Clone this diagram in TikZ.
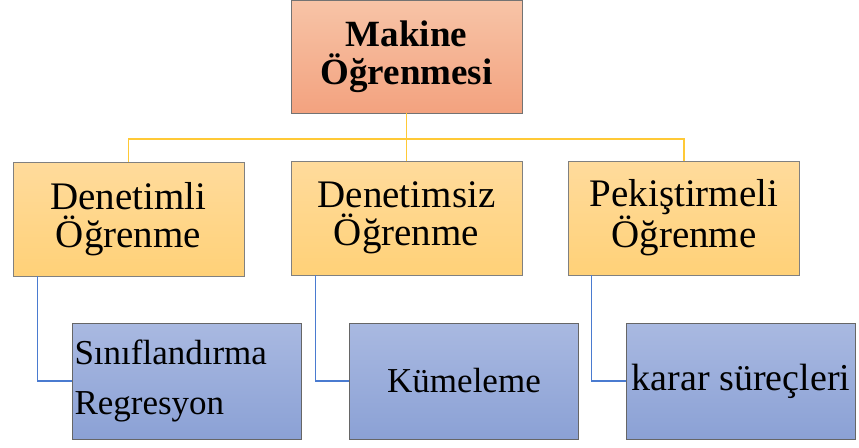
\documentclass[tikz,border=0pt]{standalone}
\usepackage{fontspec}
\setmainfont{Liberation Serif}
\newfontfamily\tnr{Liberation Serif}
\begin{document}
\begin{tikzpicture}[x=1pt,y=-1pt,
  rootbox/.style={draw=black!55, line width=0.8pt, top color=salmontop, bottom color=salmonbot,
    minimum width=231pt, minimum height=113pt, inner sep=0pt, align=center,
    font=\tnr\fontsize{37}{38}\selectfont\bfseries},
  kindbox/.style={draw=black!50, line width=0.8pt, top color=goldtop, bottom color=goldbot,
    minimum width=231pt, minimum height=114pt, inner sep=0pt, align=center,
    font=\tnr\fontsize{39}{38}\selectfont},
  taskbox/.style={draw=black!60, line width=0.8pt, top color=bluetop, bottom color=bluebot,
    minimum width=229pt, minimum height=116pt, inner sep=0pt},
  trunk/.style={draw=linkgold, line width=1.4pt},
  branch/.style={draw=linkblue, line width=1.2pt}]
\definecolor{salmontop}{HTML}{F7C4A7}
\definecolor{salmonbot}{HTML}{F3A27F}
\definecolor{goldtop}{HTML}{FFDB9C}
\definecolor{goldbot}{HTML}{FFD178}
\definecolor{bluetop}{HTML}{A9B9E1}
\definecolor{bluebot}{HTML}{8BA1D5}
\definecolor{linkgold}{HTML}{FFC936}
\definecolor{linkblue}{HTML}{4A7BD0}

\useasboundingbox (0,0) rectangle (859,447);

% root
\node[rootbox] (root) at (406.5,56.5) {Makine\\Öğrenmesi};

% learning kinds
\node[kindbox] (sup)   at (128.5,219) {Denetimli\\Öğrenme};
\node[kindbox] (unsup) at (406.5,218) {Denetimsiz\\Öğrenme};
\node[kindbox] (rein)  at (684,218)   {Pekiştirmeli\\Öğrenme};

% tasks
\node[taskbox, text width=225pt, inner xsep=2pt, align=left,
      font=\tnr\fontsize{35}{50}\selectfont] (tsup) at (187,381) {Sınıflandırma\\Regresyon};
\node[taskbox, font=\tnr\fontsize{35}{40}\selectfont] (tunsup) at (464,381) {Kümeleme};
\node[taskbox, font=\tnr\fontsize{38}{40}\selectfont] (trein)  at (741,381) {karar süreçleri};

% root to kinds
\draw[trunk] (root.south) -- ++(0,25.5) coordinate (hub);
\draw[trunk] (sup.north) |- (hub) -| (rein.north);
\draw[trunk] (hub) -- (unsup.north);

% kinds to tasks
\draw[branch] ([xshift=25pt]sup.south west) |- (tsup.west);
\draw[branch] ([xshift=25pt]unsup.south west) |- (tunsup.west);
\draw[branch] ([xshift=23pt]rein.south west) |- (trein.west);
\end{tikzpicture}
\end{document}
